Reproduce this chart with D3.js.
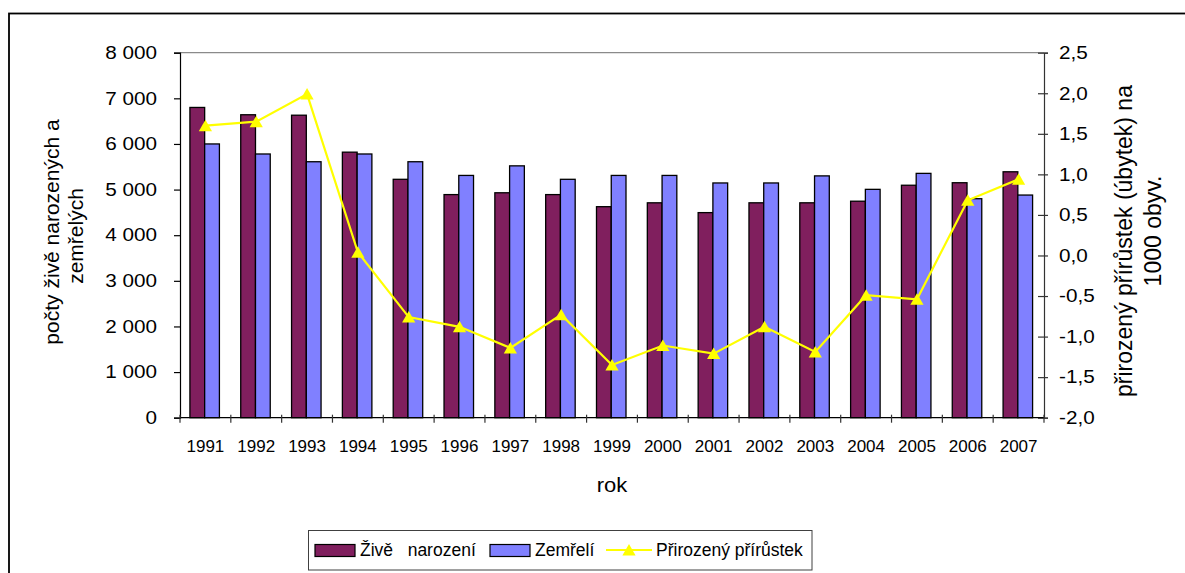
<!DOCTYPE html>
<html><head><meta charset="utf-8">
<script src="https://cdn.jsdelivr.net/npm/d3@7"></script>
<style>
body{margin:0;background:#fff}
svg{display:block}
text{font-family:"Liberation Sans",Arial,sans-serif;fill:#000}
</style>
</head><body>
<svg id="c" width="1185" height="573"></svg>
<script>
// ---- data ----
const years = [1991,1992,1993,1994,1995,1996,1997,1998,1999,2000,2001,2002,2003,2004,2005,2006,2007];
const births = [6800,6640,6630,5820,5225,4890,4930,4890,4625,4710,4495,4710,4710,4745,5095,5150,5390];
const deaths = [6000,5780,5610,5780,5610,5310,5520,5225,5310,5310,5145,5145,5300,5005,5355,4800,4880];
const growth = [1.60,1.65,1.99,0.04,-0.76,-0.88,-1.14,-0.73,-1.35,-1.11,-1.21,-0.88,-1.19,-0.49,-0.54,0.68,0.94];
const leftTicks = [0,1000,2000,3000,4000,5000,6000,7000,8000];
const rightTicks = [-2,-1.5,-1,-0.5,0,0.5,1,1.5,2,2.5];
const seriesNames = ["Živě   narození","Zemřelí","Přirozený přírůstek"];
const colors = ["#801F5E","#8080FF","#FFFF00"];
const leftTitle = ["počty živě narozených a","zemřelých"];
const rightTitle = ["přirozený přírůstek (úbytek) na","1000 obyv."];
const xTitle = "rok";

// ---- layout ----
const L = 180, R = 1044, T = 52.7, B = 417.7;
const svg = d3.select("#c");
const cz = d3.formatLocale({decimal:",", thousands:" ", grouping:[3], currency:["",""], minus:"-"});
const fmtL = cz.format(",d"), fmtR = cz.format(".1f");

const x = d3.scaleBand().domain(years).range([L, R]).paddingInner(0).paddingOuter(0);
const y = d3.scaleLinear().domain([0, 8000]).range([B, T]);
const y2 = d3.scaleLinear().domain([-2, 2.5]).range([B, T]);
const sub = d3.scaleBand().domain([0,1]).range([-15.5, 14]);

// outer border
svg.append("rect").attr("x",9).attr("y",13.5).attr("width",1250).attr("height",700)
  .attr("fill","none").attr("stroke","#000").attr("stroke-width",1.8);

// top plot border
svg.append("line").attr("x1",L).attr("x2",R).attr("y1",T).attr("y2",T)
  .attr("stroke","#8a8a8a").attr("stroke-width",1.2);

// bars
const series = [births, deaths];
series.forEach((vals, si) => {
  svg.append("g").selectAll("rect").data(vals).join("rect")
    .attr("x", (d,i) => x(years[i]) + x.bandwidth()/2 + sub(si))
    .attr("width", sub.bandwidth())
    .attr("y", d => y(d))
    .attr("height", d => y(0) - y(d))
    .attr("fill", colors[si]).attr("stroke","#000").attr("stroke-width",1.3);
});

// left axis
const gL = svg.append("g").attr("transform",`translate(${L},0)`)
  .call(d3.axisLeft(y).tickValues(leftTicks).tickFormat(fmtL).tickSize(6).tickPadding(0));
gL.select(".domain").attr("stroke","#000").attr("stroke-width",1.2);
gL.selectAll(".tick line").attr("stroke","#000").attr("stroke-width",1.2);
gL.selectAll(".tick text").attr("x",0).attr("font-size",18)
  .attr("font-family","Liberation Sans, Arial, sans-serif")
  .attr("transform","translate(-23,0) scale(1.15,1)");

// right axis
const gR = svg.append("g").attr("transform",`translate(${R},0)`)
  .call(d3.axisRight(y2).tickValues(rightTicks).tickFormat(fmtR).tickSize(4).tickPadding(0));
gR.select(".domain").attr("stroke","#333").attr("stroke-width",1.2);
gR.selectAll(".tick line").attr("x1",-6).attr("stroke","#333").attr("stroke-width",1.2);
gR.selectAll(".tick text").attr("x",0).attr("font-size",18)
  .attr("font-family","Liberation Sans, Arial, sans-serif")
  .attr("text-anchor","start")
  .attr("transform","translate(15,0) scale(1.15,1)");

// bottom axis (ticks at category boundaries)
svg.append("line").attr("x1",L).attr("x2",R).attr("y1",B).attr("y2",B)
  .attr("stroke","#000").attr("stroke-width",1.3);
const bounds = years.map(yr => x(yr)).concat([x.range()[1]]);
svg.append("g").selectAll("line").data(bounds).join("line")
  .attr("x1",d=>d).attr("x2",d=>d).attr("y1",B-3).attr("y2",B+5)
  .attr("stroke","#333").attr("stroke-width",1.2);
svg.append("g").selectAll("text").data(years).join("text")
  .attr("x", d => x(d) + x.bandwidth()/2).attr("y", 452)
  .attr("text-anchor","middle").attr("font-size",17).text(d => d);

// line series
const line = d3.line().x((d,i) => x(years[i]) + x.bandwidth()/2).y(d => y2(d));
svg.append("path").datum(growth).attr("d", line)
  .attr("fill","none").attr("stroke",colors[2]).attr("stroke-width",2.2);
const tri = "M0,-6L6.6,5.5L-6.6,5.5Z";
svg.append("g").selectAll("path").data(growth).join("path")
  .attr("d", tri)
  .attr("transform", (d,i) => `translate(${x(years[i]) + x.bandwidth()/2},${y2(d)})`)
  .attr("fill",colors[2]);

// axis titles
svg.append("text").attr("transform","translate(612,492.3) scale(1.1,1)")
  .attr("text-anchor","middle").attr("font-size",20).text(xTitle);
svg.append("text").attr("transform","translate(58.5,232) rotate(-90)")
  .attr("text-anchor","middle").attr("font-size",21).text(leftTitle[0]);
svg.append("text").attr("transform","translate(83,236) rotate(-90)")
  .attr("text-anchor","middle").attr("font-size",21).text(leftTitle[1]);
svg.append("text").attr("transform","translate(1132,241) rotate(-90)")
  .attr("text-anchor","middle").attr("font-size",23).text(rightTitle[0]);
svg.append("text").attr("transform","translate(1161,231) rotate(-90)")
  .attr("text-anchor","middle").attr("font-size",23).text(rightTitle[1]);

// legend
const lg = svg.append("g");
lg.append("rect").attr("x",308.5).attr("y",530.5).attr("width",503.5).attr("height",39.5)
  .attr("fill","#fff").attr("stroke","#404040").attr("stroke-width",1);
const swX = [315, 490];
swX.forEach((sx, i) => {
  lg.append("rect").attr("x",sx).attr("y",544.5).attr("width",40).attr("height",12)
    .attr("fill",colors[i]).attr("stroke","#000").attr("stroke-width",1.2);
});
lg.append("line").attr("x1",606).attr("x2",652).attr("y1",550).attr("y2",550)
  .attr("stroke",colors[2]).attr("stroke-width",2.2);
lg.append("path").attr("d",tri).attr("transform","translate(629,550)").attr("fill",colors[2]);
const txX = [360, 535, 656];
seriesNames.forEach((n, i) => {
  lg.append("text").attr("x",txX[i]).attr("y",556).attr("font-size",17.5)
    .attr("xml:space","preserve").style("white-space","pre").text(n);
});
</script>
</body></html>
